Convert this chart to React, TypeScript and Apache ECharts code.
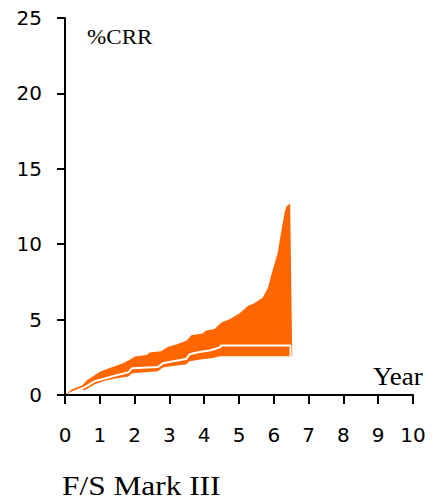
import React, { useEffect, useRef } from "react";
import * as echarts from "echarts";

// Upper boundary of the %CRR band (year, %CRR)
const upperBound: [number, number][] = [
  [0, 0], [0.2, 0.38], [0.5, 0.65], [0.62, 0.96], [0.81, 1.25], [1.0, 1.54],
  [1.24, 1.75], [1.43, 1.91], [1.67, 2.1], [1.91, 2.4], [2.0, 2.55],
  [2.35, 2.65], [2.43, 2.82], [2.76, 2.9], [2.95, 3.18], [3.24, 3.38],
  [3.5, 3.62], [3.63, 3.97], [3.95, 4.07], [4.06, 4.27], [4.3, 4.37],
  [4.49, 4.8], [4.73, 5.02], [5.01, 5.4], [5.25, 5.9], [5.45, 6.1],
  [5.68, 6.45], [5.83, 7.1], [5.97, 8.3], [6.11, 9.4], [6.21, 10.8],
  [6.31, 12.1], [6.36, 12.5], [6.47, 12.7], [6.53, 2.6],
];

// Lower boundary of the band
const lowerBound: [number, number][] = [
  [0, 0], [0.1, 0.04], [0.25, 0.22], [0.5, 0.42], [0.55, 0.3], [0.86, 0.72],
  [1.14, 0.94], [1.53, 1.12], [1.82, 1.23], [1.93, 1.45], [2.38, 1.52],
  [2.67, 1.58], [2.81, 1.83], [3.15, 1.94], [3.48, 2.03], [3.58, 2.24],
  [3.9, 2.35], [4.25, 2.45], [4.44, 2.57], [6.53, 2.57],
];

// Central estimate (white line)
const central: [number, number][] = [
  [0.08, 0.02], [0.25, 0.22], [0.57, 0.52], [0.86, 0.92], [1.14, 1.09],
  [1.48, 1.31], [1.82, 1.5], [1.93, 1.78], [2.67, 1.86], [2.81, 2.1],
  [3.15, 2.26], [3.48, 2.38], [3.58, 2.7], [3.86, 2.85], [4.15, 2.95],
  [4.44, 3.15], [4.49, 3.28], [6.48, 3.28], [6.48, 2.57],
];

const xTicks = { min: 0, max: 10, interval: 1 };
const yTicks = { min: 0, max: 25, interval: 5 };

const ORANGE = "#FF6600";

export default function App() {
  const ref = useRef<HTMLDivElement>(null);
  useEffect(() => {
    if (!ref.current) return;
    const chart = echarts.init(ref.current, null, { renderer: "svg" });
    const axisCommon = {
      axisLine: { show: true, lineStyle: { color: "#000", width: 2 } },
      splitLine: { show: false },
    };
    chart.setOption({
      animation: false,
      backgroundColor: "#fff",
      grid: { left: 65, right: 20, top: 18, bottom: 106 },
      xAxis: {
        type: "value",
        ...xTicks,
        ...axisCommon,
        z: 5,
        axisTick: { show: true, length: 9, lineStyle: { color: "#000", width: 2 } },
        axisLabel: { color: "#000", fontSize: 20, fontFamily: "DejaVu Sans", margin: 29.5 },
      },
      yAxis: {
        type: "value",
        ...yTicks,
        ...axisCommon,
        z: 5,
        axisTick: { show: true, length: 8, lineStyle: { color: "#000", width: 2 } },
        axisLabel: { color: "#000", fontSize: 20, fontFamily: "DejaVu Sans", margin: 23 },
      },
      series: [
        {
          type: "custom",
          data: [[0, 0]],
          z: 2,
          renderItem: (_params: any, api: any) => {
            const pts = [
              ...upperBound.map((p) => api.coord(p)),
              ...lowerBound.slice().reverse().map((p) => api.coord(p)),
            ];
            return { type: "polygon", shape: { points: pts }, style: { fill: ORANGE } };
          },
        },
        {
          type: "line",
          data: central,
          symbol: "none",
          z: 3,
          lineStyle: { color: "#fff", width: 2 },
        },
      ],
      graphic: [
        {
          type: "text", x: 87, y: 36.5, scaleX: 1.05,
          style: { text: "%CRR", font: '22px "Liberation Serif"', fill: "#000", verticalAlign: "middle" },
        },
        {
          type: "text", x: 373, y: 376.5, scaleX: 1.08,
          style: { text: "Year", font: '25px "Liberation Serif"', fill: "#000", verticalAlign: "middle" },
        },
        {
          type: "text", x: 62, y: 486, scaleX: 1.12,
          style: { text: "F/S Mark III", font: '28px "Liberation Serif"', fill: "#000", verticalAlign: "middle" },
        },
      ],
    });
    return () => chart.dispose();
  }, []);
  return (
    <div
      ref={ref}
      style={{ position: "fixed", left: 0, top: 0, width: 433, height: 501 }}
    />
  );
}
